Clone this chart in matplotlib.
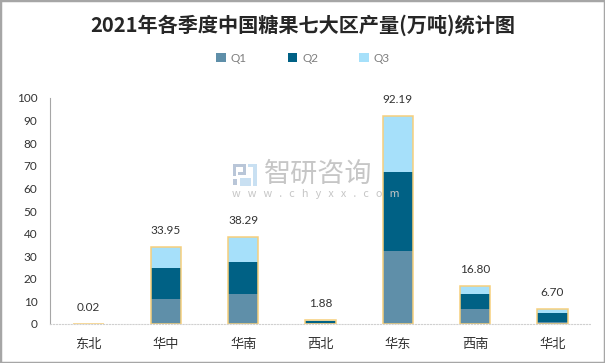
import matplotlib
matplotlib.use("Agg")
import matplotlib.pyplot as plt
import numpy as np
from matplotlib.patches import Rectangle

plt.rcParams['font.family'] = ['Noto Sans CJK SC', 'DejaVu Sans']
NUM_FONT = ['Lato', 'DejaVu Sans']

regions = ["东北", "华中", "华南", "西北", "华东", "西南", "华北"]
q1 = [0.01, 11.0, 13.2, 0.6, 32.5, 6.6, 1.0]
q2 = [0.005, 13.8, 14.2, 0.6, 34.9, 6.7, 3.9]
q3 = [0.005, 9.15, 10.89, 0.68, 24.79, 3.5, 1.8]
totals = [0.02, 33.95, 38.29, 1.88, 92.19, 16.80, 6.70]
yticks = [0, 10, 20, 30, 40, 50, 60, 70, 80, 90, 100]

W, H = 605, 363
fig = plt.figure(figsize=(W / 100, H / 100), dpi=100, facecolor="white")
# axes box in reference pixels
ax = fig.add_axes([50 / W, 1 - 324 / H, 541 / W, 226 / H])

x = np.arange(len(regions))
q1 = np.array(q1)
q2 = np.array(q2)
q3 = np.array(q3)
bar_w = 0.395
ax.bar(x, q1, bar_w, color="#5F8FA9", label="Q1")
ax.bar(x, q2, bar_w, bottom=q1, color="#006185", label="Q2")
ax.bar(x, q3, bar_w, bottom=q1 + q2, color="#A6E0FA", label="Q3")
# gold outline around each stack
ax.bar(x, totals, bar_w, facecolor="none", edgecolor="#F6CF7C", linewidth=1.1)

for xi, t in zip(x, totals):
    ax.annotate(f"{t:.2f}", (xi, t), xytext=(0, 8), textcoords="offset points",
                ha="center", va="bottom", fontsize=8.5, color="#333333", family=NUM_FONT)

ax.set_xlim(-0.5, 6.5)
ax.set_ylim(0, 100)
ax.set_yticks(yticks)
ax.set_yticklabels([str(v) for v in yticks], family=NUM_FONT, fontsize=8.5, color="#333333")
ax.set_xticks(x)
ax.set_xticklabels(regions, fontsize=9.5, color="#333333")
ax.tick_params(axis="x", length=0, pad=10)
ax.tick_params(axis="y", length=0, pad=9)
for s in ["top", "right"]:
    ax.spines[s].set_visible(False)
ax.spines["left"].set_color("#A6A6A6")
ax.spines["bottom"].set_color("#D0D0D0")
ax.spines["bottom"].set_linestyle(":")

fig.text(303 / W, 1 - 25 / H, "2021年各季度中国糖果七大区产量(万吨)统计图", ha="center", va="center",
         fontsize=14.5, fontweight="bold", color="#262626")

handles, labels = ax.get_legend_handles_labels()
fig.legend(handles, labels, loc="center", bbox_to_anchor=(303 / W, 1 - 58 / H), ncol=3, frameon=False,
           prop={"family": NUM_FONT, "size": 8.5}, labelcolor="#7F7F7F", handlelength=0.8, handleheight=0.8,
           columnspacing=3.5, handletextpad=0.4)

# watermark
fig.text(264 / W, 1 - 174 / H, "智研咨询", ha="left", va="center", fontsize=19.5, color="#C6C6C6")
fig.text(232 / W, 1 - 194 / H, "w   w   w   .   c   h   y   x   x   .   c   o   m", ha="left", va="center",
         fontsize=7.8, color="#C6C6C6")
logo = [(233, 164, 13, 3, "#B9C6D8"), (233, 164, 3, 12, "#B9C6D8"), (243, 164, 3, 8, "#B9C6D8"),
        (238, 172, 8, 3, "#B9C6D8"), (233, 179, 4, 6, "#B9C6D8"),
        (248, 164, 9, 3, "#C9E0F2"), (253, 164, 4, 22, "#C9E0F2"), (240, 178, 11, 8, "#C9E0F2")]
for lx, ly, lw, lh, c in logo:
    fig.add_artist(Rectangle((lx / W, 1 - (ly + lh) / H), lw / W, lh / H, transform=fig.transFigure,
                             facecolor=c, edgecolor="none"))

# outer frame
fig.add_artist(Rectangle((0, 0), 1, 1, transform=fig.transFigure, facecolor="none",
                         edgecolor="#A6A6A6", linewidth=2.5))

fig.savefig("out.png", dpi=100)
